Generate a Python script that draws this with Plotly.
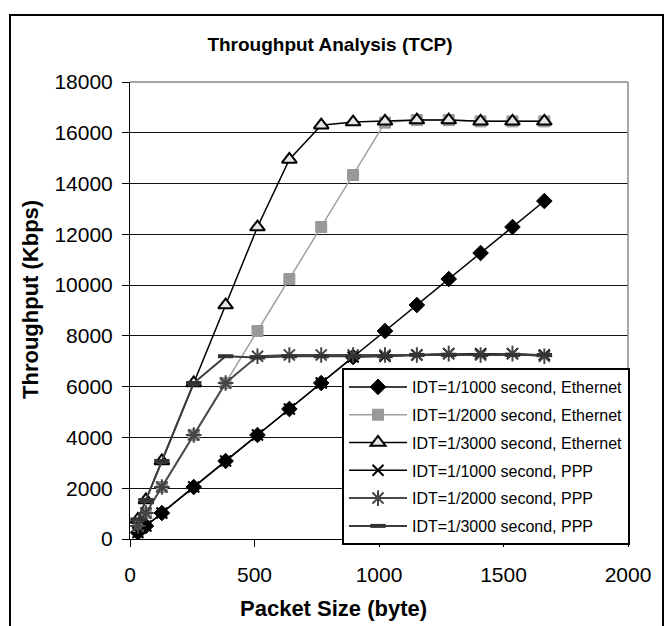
import plotly.graph_objects as go

packet_sizes = [32, 64, 128, 256, 384, 512, 640, 768, 896, 1024, 1152, 1280, 1408, 1536, 1664]

eth_1000 = [256, 512, 1024, 2048, 3072, 4096, 5120, 6144, 7168, 8192, 9216, 10240, 11264, 12288, 13312]
eth_2000 = [512, 1024, 2048, 4096, 6144, 8192, 10240, 12288, 14336, 16400, 16500, 16500, 16450, 16450, 16450]
eth_3000 = [768, 1536, 3072, 6144, 9216, 12288, 14950, 16300, 16420, 16450, 16500, 16500, 16450, 16450, 16450]
ppp_1000 = [256, 512, 1024, 2048, 3072, 4096, 5120, 6144, 7168, 7200, 7250, 7300, 7300, 7300, 7250]
ppp_2000 = [512, 1024, 2048, 4096, 6144, 7200, 7250, 7250, 7250, 7250, 7250, 7300, 7250, 7300, 7200]
ppp_3000 = [768, 1536, 3072, 6144, 7200, 7150, 7200, 7200, 7200, 7200, 7250, 7250, 7250, 7250, 7250]

y_ticks = [0, 2000, 4000, 6000, 8000, 10000, 12000, 14000, 16000, 18000]
x_ticks = [0, 500, 1000, 1500, 2000]

names = [
    "IDT=1/1000 second, Ethernet",
    "IDT=1/2000 second, Ethernet",
    "IDT=1/3000 second, Ethernet",
    "IDT=1/1000 second, PPP",
    "IDT=1/2000 second, PPP",
    "IDT=1/3000 second, PPP",
]

FONT = "Liberation Sans, Arial, sans-serif"

fig = go.Figure()

styles = [
    dict(series=eth_1000, lc="#000000", lw=1.5,
         marker=dict(symbol="diamond", size=12, color="#000000", line=dict(color="#000000", width=1))),
    dict(series=eth_2000, lc="#a0a0a0", lw=1.5,
         marker=dict(symbol="square", size=11, color="#999999", line=dict(color="#999999", width=1))),
    dict(series=eth_3000, lc="#000000", lw=1.5,
         marker=dict(symbol="triangle-up", size=13, color="#e6e6e6", line=dict(color="#000000", width=2))),
    dict(series=ppp_1000, lc="#000000", lw=1.5,
         marker=dict(symbol="x-thin-open", size=11, color="#000000", line=dict(color="#000000", width=2))),
    dict(series=ppp_2000, lc="#4a4a4a", lw=2,
         marker=dict(symbol="asterisk-open", size=13, color="#444444", line=dict(color="#444444", width=2))),
    dict(series=ppp_3000, lc="#3c3c3c", lw=2,
         marker=dict(symbol="line-ew-open", size=11, color="#333333", line=dict(color="#333333", width=4))),
]

for i, (name, st) in enumerate(zip(names, styles)):
    fig.add_trace(go.Scatter(
        x=packet_sizes, y=st["series"], name=name, mode="lines+markers",
        line=dict(color=st["lc"], width=st["lw"]),
        marker=st["marker"], legendgroup=f"g{i}",
    ))

fig.update_layout(
    width=671, height=626,
    margin=dict(l=130, r=43, t=82, b=87),
    paper_bgcolor="white", plot_bgcolor="white",
    font=dict(family=FONT, size=21, color="#000000"),
    showlegend=True,
    title=dict(text="<b>Throughput Analysis (TCP)</b>", x=330/671, xref="container",
               xanchor="center", y=1-44/626, yref="container", yanchor="middle",
               font=dict(size=19, family=FONT)),
    legend=dict(
        x=(342-130)/498, xanchor="left", y=(539-368)/457, yanchor="top",
        bgcolor="white", bordercolor="#000000", borderwidth=2,
        font=dict(size=16, family=FONT), traceorder="grouped", tracegroupgap=4,
        itemwidth=58,
    ),
    xaxis=dict(range=[0, 2000], tickvals=x_ticks, tickformat="d",
               showgrid=False, zeroline=False, showline=True, linecolor="#000000", linewidth=1,
               ticks="outside", ticklen=7, tickcolor="#000000", tickfont=dict(size=21),
               ticklabelstandoff=10),
    yaxis=dict(range=[0, 18000], tickvals=y_ticks, tickformat="d",
               showgrid=True, gridcolor="#111111", gridwidth=1, zeroline=False,
               showline=True, linecolor="#000000", linewidth=1,
               ticks="outside", ticklen=7, tickcolor="#000000", tickfont=dict(size=21),
               ticklabelstandoff=5),
    annotations=[
        dict(text="<b>Packet Size (byte)</b>", xref="paper", yref="paper",
             x=(333-130)/498, y=-(608-539)/457, xanchor="center", yanchor="middle",
             showarrow=False, font=dict(size=22, family=FONT)),
        dict(text="<b>Throughput (Kbps)</b>", xref="paper", yref="paper",
             x=-(130-30)/498, y=(539-300)/457, xanchor="center", yanchor="middle",
             textangle=-90, showarrow=False, font=dict(size=22, family=FONT)),
    ],
    shapes=[
        dict(type="line", xref="paper", yref="paper", x0=0, x1=1, y0=1, y1=1,
             line=dict(color="#888888", width=1.5)),
        dict(type="line", xref="paper", yref="paper", x0=1, x1=1, y0=0, y1=1,
             line=dict(color="#888888", width=1.5)),
        dict(type="rect", xref="paper", yref="paper",
             x0=-(130-10)/498, x1=(663-130)/498, y0=-(640-539)/457, y1=(539-15)/457,
             line=dict(color="#000000", width=2), fillcolor="rgba(0,0,0,0)"),
    ],
)

fig.write_html("out.html")
